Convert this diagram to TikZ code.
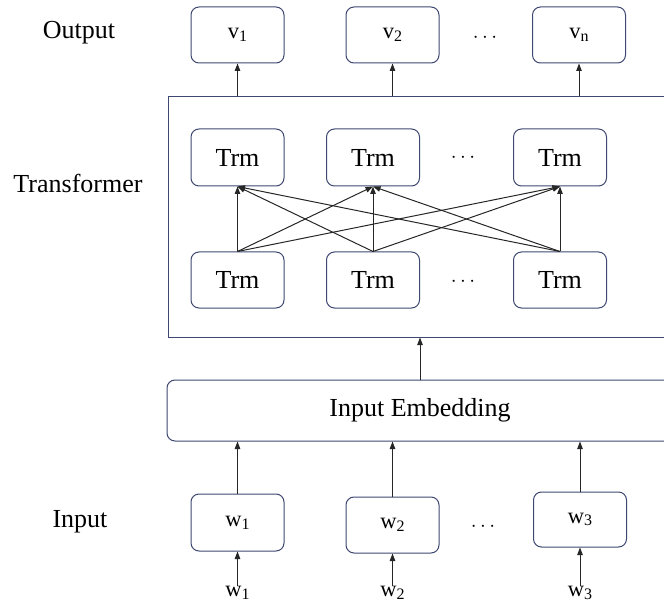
\documentclass[tikz,border=0pt]{standalone}
\usepackage{fontspec}
\setmainfont{Liberation Serif}
\usetikzlibrary{arrows.meta}
\definecolor{boxc}{RGB}{62,72,112}
\newcommand\mysub[1]{\raisebox{-0.12em}{\fontsize{16}{16}\selectfont #1}}
\begin{document}
\begin{tikzpicture}[x=1pt,y=-1pt,
  big/.style={font=\fontsize{26}{26}\selectfont},
  sm/.style={font=\fontsize{22.5}{22.5}\selectfont},
  rbox/.style={draw=boxc,line width=1pt,rounded corners=8pt,minimum width=93pt,inner sep=0pt},
  arr/.style={draw=black!85,line width=1pt,-{Triangle[length=7.5pt,width=5.5pt]}},
  dotsn/.style={font=\fontsize{21}{21}\selectfont,inner sep=0pt,anchor=base}]
\useasboundingbox (0,0) rectangle (664,604);
\clip (0,0) rectangle (664,604);
% side labels
\node[big] (lout) at (79,33) {Output};
\node[big] (ltr) at (78,183) {Transformer};
\node[big] (lin) at (80,522) {Input};
% output boxes
\node[rbox,sm,minimum height=56pt] (v1) at (237.5,35) {v\mysub{1}};
\node[rbox,sm,minimum height=56pt] (v2) at (392.5,35) {v\mysub{2}};
\node[rbox,sm,minimum height=56pt] (vn) at (579,35) {v\mysub{n}};
\node[dotsn] (dv) at (485,43) {$\cdots$};
% transformer container
\node[draw=boxc,line width=1pt,minimum width=504pt,minimum height=240pt,inner sep=0pt] (T) at (420,217) {};
% Trm boxes
\node[rbox,big,minimum height=57pt] (t1) at (237.5,157.5) {Trm};
\node[rbox,big,minimum height=57pt] (t2) at (373,157.5) {Trm};
\node[rbox,big,minimum height=57pt] (t3) at (560,157.5) {Trm};
\node[rbox,big,minimum height=56pt] (b1) at (237.5,280) {Trm};
\node[rbox,big,minimum height=56pt] (b2) at (373,280) {Trm};
\node[rbox,big,minimum height=56pt] (b3) at (560,280) {Trm};
\node[dotsn] (dt) at (463,163) {$\cdots$};
\node[dotsn] (db) at (463,286) {$\cdots$};
% embedding
\node[draw=boxc,line width=1pt,rounded corners=8pt,minimum width=506pt,minimum height=61pt,inner sep=0pt,big] (E) at (420,410.5) {Input Embedding};
% input boxes
\node[rbox,sm,minimum height=57pt] (w1) at (237.5,522.5) {w\mysub{1}};
\node[rbox,sm,minimum height=56pt] (w2) at (392.5,525) {w\mysub{2}};
\node[rbox,sm,minimum height=55pt] (w3) at (580,519.5) {w\mysub{3}};
\node[dotsn] (dw) at (483,531) {$\cdots$};
% bottom labels
\node[sm,inner sep=0pt] (x1) at (237.5,593) {w\mysub{1}};
\node[sm,inner sep=0pt] (x2) at (392.5,593) {w\mysub{2}};
\node[sm,inner sep=0pt] (x3) at (580,593) {w\mysub{3}};
% arrows
\draw[arr] (x1.north) -- (w1.south);
\draw[arr] (x2.north) -- (w2.south);
\draw[arr] (x3.north) -- (w3.south);
\draw[arr] (w1.north) -- (w1.north |- E.south);
\draw[arr] (w2.north) -- (w2.north |- E.south);
\draw[arr] (w3.north) -- (w3.north |- E.south);
\draw[arr] (E.north) -- (E.north |- T.south);
\foreach \b in {b1,b2,b3}{
  \foreach \t in {t1,t2,t3}{
    \draw[arr] (\b.north) -- (\t.south);
  }
}
\draw[arr] (v1.south |- T.north) -- (v1.south);
\draw[arr] (v2.south |- T.north) -- (v2.south);
\draw[arr] (vn.south |- T.north) -- (vn.south);
\end{tikzpicture}
\end{document}
